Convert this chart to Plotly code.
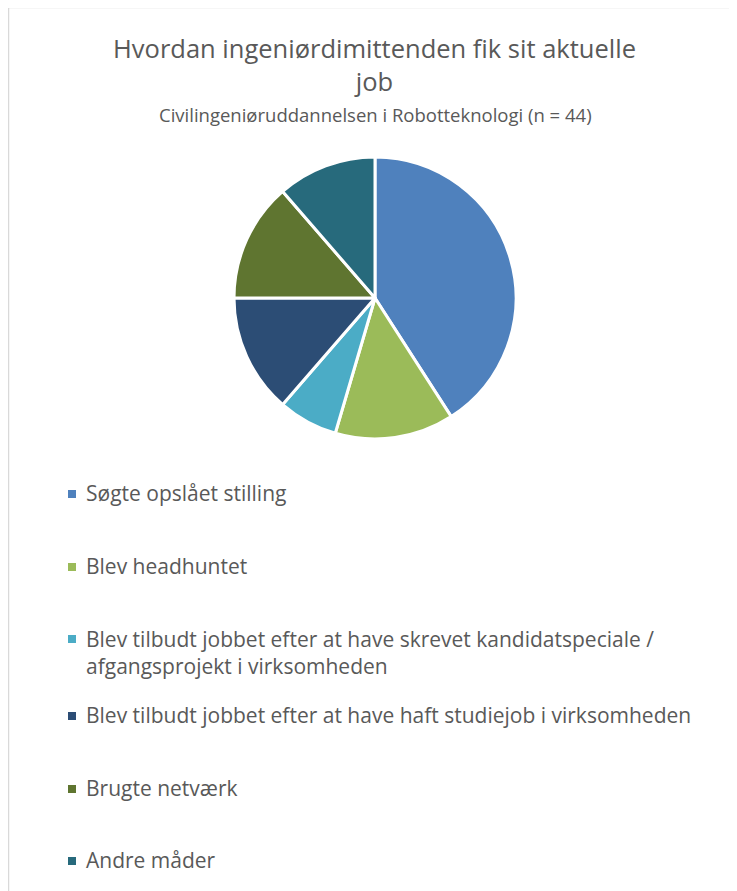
import plotly.graph_objects as go

# Page body has an 8px margin, so the figure is placed at (8, 8) in the window.
OFF = 8
W, H = 737 - OFF, 891 - OFF

labels = [
    "Søgte opslået stilling",
    "Blev headhuntet",
    "Blev tilbudt jobbet efter at have skrevet kandidatspeciale /<br>afgangsprojekt i virksomheden",
    "Blev tilbudt jobbet efter at have haft studiejob i virksomheden",
    "Brugte netværk",
    "Andre måder",
]
values = [18, 6, 3, 6, 6, 5]
colors = ["#4F81BD", "#9BBB59", "#4BACC6", "#2C4D75", "#5F7530", "#276A7C"]

title_text = "Hvordan ingeniørdimittenden fik sit aktuelle<br>job"
subtitle_text = "Civilingeniøruddannelsen i Robotteknologi (n = 44)"

FONT = "Open Sans"
TXT = "#595959"

def px(x):
    return (x - OFF) / W

def py(y):
    return 1 - (y - OFF) / H

fig = go.Figure()
fig.add_trace(go.Pie(
    labels=[l.replace("<br>", " ") for l in labels],
    values=values,
    marker=dict(colors=colors, line=dict(color="white", width=3)),
    sort=False,
    direction="clockwise",
    rotation=0,
    textinfo="none",
    hoverinfo="label+value+percent",
    showlegend=False,
    domain=dict(x=[px(234), px(516)], y=[py(439), py(157)]),
))

annotations = [
    dict(text=title_text, x=px(374), y=py(64), xref="paper", yref="paper",
         xanchor="center", yanchor="middle", showarrow=False,
         font=dict(family=FONT, size=25.5, color=TXT)),
    dict(text=subtitle_text, x=px(375), y=py(114), xref="paper", yref="paper",
         xanchor="center", yanchor="middle", showarrow=False,
         font=dict(family=FONT, size=18.5, color=TXT)),
]
shapes = [
    dict(type="rect", xref="paper", yref="paper", x0=px(8.5), x1=1.2, y0=-0.2, y1=py(7.5),
         line=dict(color="#D9D9D9", width=1.5), fillcolor="rgba(0,0,0,0)", layer="below"),
]

legend_y = [493, 566, 652, 715, 788, 860]
first_line_y = [493, 566, 638, 715, 788, 860]
for lab, col, yc, y1 in zip(labels, colors, legend_y, first_line_y):
    annotations.append(dict(
        text=lab, x=px(84), y=py(yc), xref="paper", yref="paper",
        xanchor="left", yanchor="middle", align="left", showarrow=False,
        font=dict(family=FONT, size=21, color=TXT)))
    shapes.append(dict(type="rect", xref="paper", yref="paper",
                       x0=px(68), x1=px(76), y0=py(y1 + 5), y1=py(y1 - 3),
                       fillcolor=col, line=dict(width=0)))

fig.update_layout(
    width=W, height=H,
    margin=dict(l=0, r=0, t=0, b=0),
    paper_bgcolor="white",
    plot_bgcolor="white",
    annotations=annotations,
    shapes=shapes,
)

fig.write_html("out.html")
